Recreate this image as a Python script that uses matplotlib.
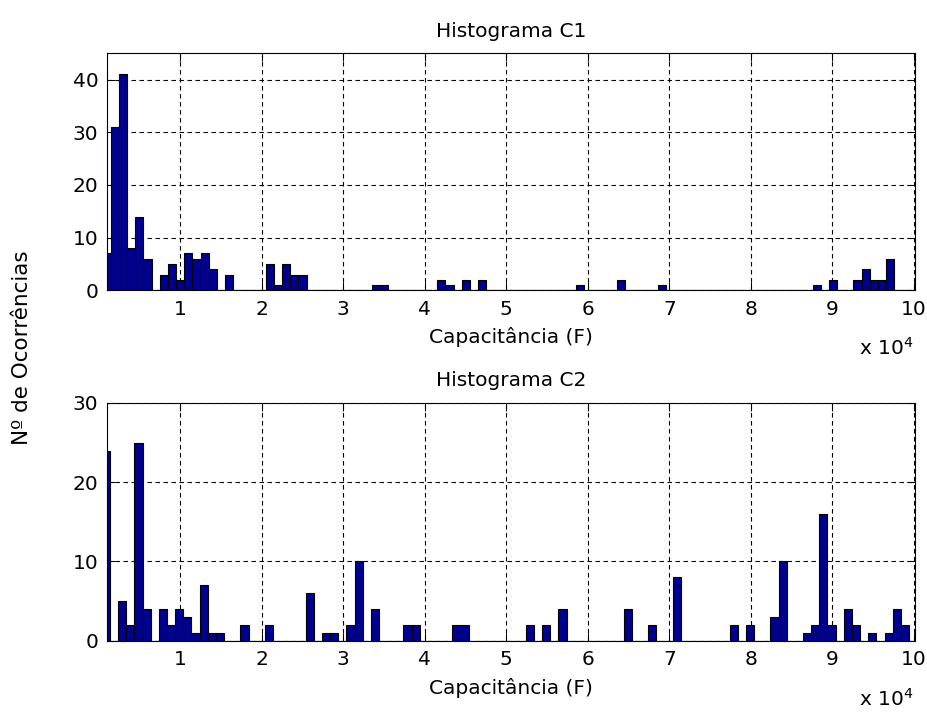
import numpy as np
import matplotlib.pyplot as plt

plt.rcParams['font.family'] = 'DejaVu Sans'
plt.rcParams['font.size'] = 14.5
plt.rcParams['mathtext.default'] = 'regular'

# occurrences per bin (100 bins), capacitor C1
c1_counts = [7, 31, 41, 8, 14, 6, 0, 3, 5, 2,
             7, 6, 7, 4, 0, 3, 0, 0, 0, 0,
             5, 1, 5, 3, 3, 0, 0, 0, 0, 0,
             0, 0, 0, 1, 1, 0, 0, 0, 0, 0,
             0, 2, 1, 0, 2, 0, 2, 0, 0, 0,
             0, 0, 0, 0, 0, 0, 0, 0, 1, 0,
             0, 0, 0, 2, 0, 0, 0, 0, 1, 0,
             0, 0, 0, 0, 0, 0, 0, 0, 0, 0,
             0, 0, 0, 0, 0, 0, 0, 1, 0, 2,
             0, 0, 2, 4, 2, 2, 6, 0, 0, 0]

# occurrences per bin (100 bins), capacitor C2
c2_counts = [24, 0, 5, 2, 25, 4, 0, 4, 2, 4,
             3, 1, 7, 1, 1, 0, 0, 2, 0, 0,
             2, 0, 0, 0, 0, 6, 0, 1, 1, 0,
             2, 10, 0, 4, 0, 0, 0, 2, 2, 0,
             0, 0, 0, 2, 2, 0, 0, 0, 0, 0,
             0, 0, 2, 0, 2, 0, 4, 0, 0, 0,
             0, 0, 0, 0, 4, 0, 0, 2, 0, 0,
             8, 0, 0, 0, 0, 0, 0, 2, 0, 2,
             0, 0, 3, 10, 0, 0, 1, 2, 16, 2,
             0, 4, 2, 0, 1, 0, 1, 4, 2, 0]

# first / last bin centre of each histogram (F)
c1_bins = (1006, 100100)
c2_bins = (906, 99905)
x_lim = (1006, 100100)

x_ticks = [1, 2, 3, 4, 5, 6, 7, 8, 9, 10]   # x 10^4
c1_yticks = [0, 10, 20, 30, 40]
c2_yticks = [0, 10, 20, 30]
c1_ylim = 45
c2_ylim = 30

titles = ['Histograma C1', 'Histograma C2']
xlabel = 'Capacitância (F)'
ylabel = 'Nº de Ocorrências'

bar_color = (0, 0, 0.56)

W, H = 928, 714
fig = plt.figure(figsize=(W / 100, H / 100), dpi=100)


def add_ax(left, top, right, bottom):
    return fig.add_axes([left / W, 1 - bottom / H, (right - left) / W, (bottom - top) / H])


ax1 = add_ax(106.7, 53.3, 914.7, 290.3)
ax2 = add_ax(106.7, 403.0, 914.7, 640.7)

panels = [(ax1, c1_counts, c1_bins, c1_yticks, c1_ylim, titles[0]),
          (ax2, c2_counts, c2_bins, c2_yticks, c2_ylim, titles[1])]

for ax, counts, bins, yticks, ymax, title in panels:
    centers = np.linspace(bins[0], bins[1], len(counts))
    width = centers[1] - centers[0]
    ax.bar(centers, counts, width=width, color=bar_color,
           edgecolor='black', linewidth=0.8, zorder=2)

    ax.set_xlim(*x_lim)
    ax.set_ylim(0, ymax)
    ax.set_xticks([t * 1e4 for t in x_ticks])
    ax.set_xticklabels([str(t) for t in x_ticks])
    ax.set_yticks(yticks)
    ax.set_axisbelow(True)
    ax.grid(True, color='black', linewidth=0.8, linestyle=(0, (4, 3.2)))
    ax.tick_params(direction='in', top=True, right=True, length=6, width=0.75,
                   labelsize=14.5)
    ax.tick_params(axis='x', pad=7)
    ax.tick_params(axis='y', pad=6)
    for sp in ax.spines.values():
        sp.set_linewidth(0.8)

    ax.set_title(title, fontsize=14.5, pad=12)
    ax.set_xlabel(xlabel, fontsize=14.5)
    ax.xaxis.set_label_coords(0.5, -47 / 237)
    ax.xaxis.label.set_verticalalignment('center')
    ax.text(0.998, -58 / 237, r'x 10$^4$', transform=ax.transAxes,
            ha='right', va='center', fontsize=14.5)

fig.text(22 / W, 1 - 348 / H, ylabel, rotation=90, ha='center', va='center',
         fontsize=15.5)

fig.savefig('out.png', dpi=100, facecolor='white')
